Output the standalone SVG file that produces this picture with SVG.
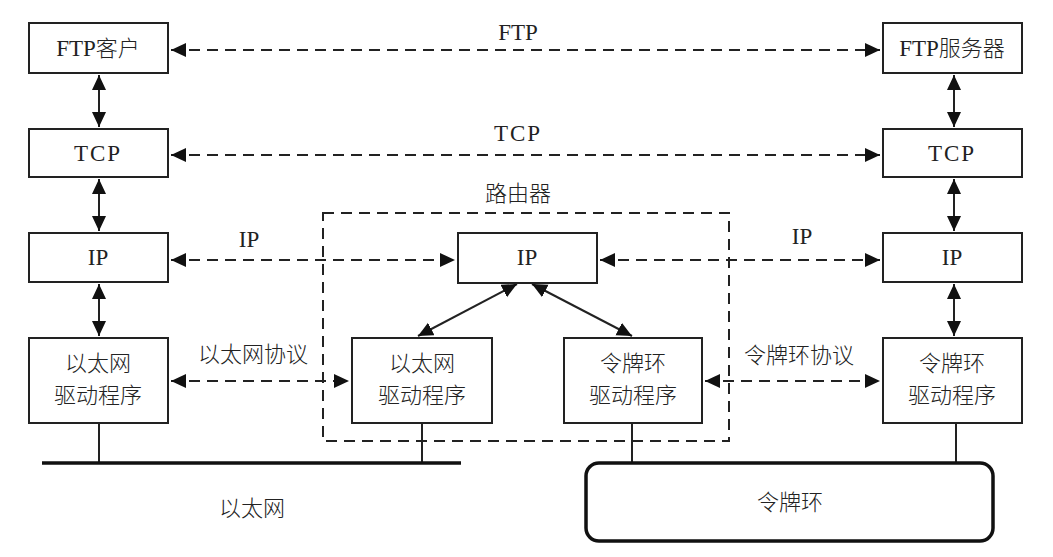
<svg xmlns="http://www.w3.org/2000/svg" width="1053" height="557" viewBox="0 0 1053 557">
<style>
.box{fill:#fff;stroke:#222;stroke-width:2}
.t{font-family:"Liberation Serif","Noto Sans CJK SC",serif;font-size:23px;fill:#222;text-anchor:middle;dominant-baseline:central}
.c{font-size:22px;font-weight:300}
.dash{fill:none;stroke:#222;stroke-width:2;stroke-dasharray:11,7}
.solid{fill:none;stroke:#222;stroke-width:2}
.bus{fill:none;stroke:#111;stroke-width:3.5}
</style>
<defs>
<marker id="ah" markerUnits="userSpaceOnUse" markerWidth="15" markerHeight="15" refX="15" refY="7" orient="auto-start-reverse">
<path d="M0,0 L15,7 L0,14 z" fill="#111"/>
</marker>
</defs>
<rect width="1053" height="557" fill="#fff"/>

<g id="router">
<rect x="323" y="213" width="406" height="228" class="dash"/>
<text x="518" y="193" class="t c">路由器</text>
</g>

<g id="connectors">
<line x1="171" y1="50" x2="880" y2="50" class="dash" marker-start="url(#ah)" marker-end="url(#ah)"/>
<line x1="171" y1="155" x2="880" y2="155" class="dash" marker-start="url(#ah)" marker-end="url(#ah)"/>
<line x1="171" y1="260" x2="455" y2="260" class="dash" marker-start="url(#ah)" marker-end="url(#ah)"/>
<line x1="600" y1="260" x2="880" y2="260" class="dash" marker-start="url(#ah)" marker-end="url(#ah)"/>
<line x1="171" y1="381" x2="349" y2="381" class="dash" marker-start="url(#ah)" marker-end="url(#ah)"/>
<line x1="705" y1="381" x2="880" y2="381" class="dash" marker-start="url(#ah)" marker-end="url(#ah)"/>
<line x1="99" y1="75" x2="99" y2="127" class="solid" marker-start="url(#ah)" marker-end="url(#ah)"/>
<line x1="99" y1="179" x2="99" y2="231" class="solid" marker-start="url(#ah)" marker-end="url(#ah)"/>
<line x1="99" y1="284" x2="99" y2="336" class="solid" marker-start="url(#ah)" marker-end="url(#ah)"/>
<line x1="954" y1="75" x2="954" y2="127" class="solid" marker-start="url(#ah)" marker-end="url(#ah)"/>
<line x1="954" y1="179" x2="954" y2="231" class="solid" marker-start="url(#ah)" marker-end="url(#ah)"/>
<line x1="954" y1="284" x2="954" y2="336" class="solid" marker-start="url(#ah)" marker-end="url(#ah)"/>
<line x1="517" y1="284" x2="418" y2="336" class="solid" marker-start="url(#ah)" marker-end="url(#ah)"/>
<line x1="532" y1="284" x2="632" y2="336" class="solid" marker-start="url(#ah)" marker-end="url(#ah)"/>
<line x1="99" y1="423" x2="99" y2="463" class="solid"/>
<line x1="422" y1="423" x2="422" y2="463" class="solid"/>
<line x1="632" y1="423" x2="632" y2="463" class="solid"/>
<line x1="956" y1="423" x2="956" y2="463" class="solid"/>
<text x="518" y="32" class="t">FTP</text>
<text x="518" y="133" class="t" letter-spacing="2">TCP</text>
<text x="249" y="239" class="t">IP</text>
<text x="802" y="236" class="t">IP</text>
<text x="253" y="354" class="t c">以太网协议</text>
<text x="799" y="355" class="t c">令牌环协议</text>
</g>

<g id="ethernet">
<line x1="42" y1="463" x2="461" y2="463" class="bus"/>
<text x="252" y="508" class="t c">以太网</text>
</g>

<g id="tokenring">
<rect x="586" y="463" width="407" height="78" rx="13" class="bus"/>
<text x="790" y="502" class="t c">令牌环</text>
</g>

<g id="ftp-client"><rect x="29" y="23" width="139" height="50" class="box"/><text x="98" y="48" class="t">FTP<tspan class="c">客户</tspan></text></g>
<g id="tcp-left"><rect x="29" y="129" width="139" height="48" class="box"/><text x="98" y="153" class="t" letter-spacing="2">TCP</text></g>
<g id="ip-left"><rect x="29" y="233" width="139" height="49" class="box"/><text x="98" y="257" class="t">IP</text></g>
<g id="eth-left"><rect x="29" y="338" width="139" height="85" class="box"/><text x="98" y="363" class="t c">以太网</text><text x="98" y="395" class="t c">驱动程序</text></g>

<g id="ip-router"><rect x="458" y="233" width="139" height="50" class="box"/><text x="527" y="257" class="t">IP</text></g>
<g id="eth-router"><rect x="352" y="338" width="140" height="85" class="box"/><text x="422" y="363" class="t c">以太网</text><text x="422" y="395" class="t c">驱动程序</text></g>
<g id="tr-router"><rect x="564" y="338" width="138" height="85" class="box"/><text x="633" y="363" class="t c">令牌环</text><text x="633" y="395" class="t c">驱动程序</text></g>

<g id="ftp-server"><rect x="883" y="23" width="139" height="50" class="box"/><text x="952" y="48" class="t">FTP<tspan class="c">服务器</tspan></text></g>
<g id="tcp-right"><rect x="883" y="129" width="139" height="48" class="box"/><text x="952" y="153" class="t" letter-spacing="2">TCP</text></g>
<g id="ip-right"><rect x="883" y="233" width="139" height="49" class="box"/><text x="952" y="257" class="t">IP</text></g>
<g id="tr-right"><rect x="883" y="338" width="139" height="85" class="box"/><text x="952" y="363" class="t c">令牌环</text><text x="952" y="395" class="t c">驱动程序</text></g>
</svg>
